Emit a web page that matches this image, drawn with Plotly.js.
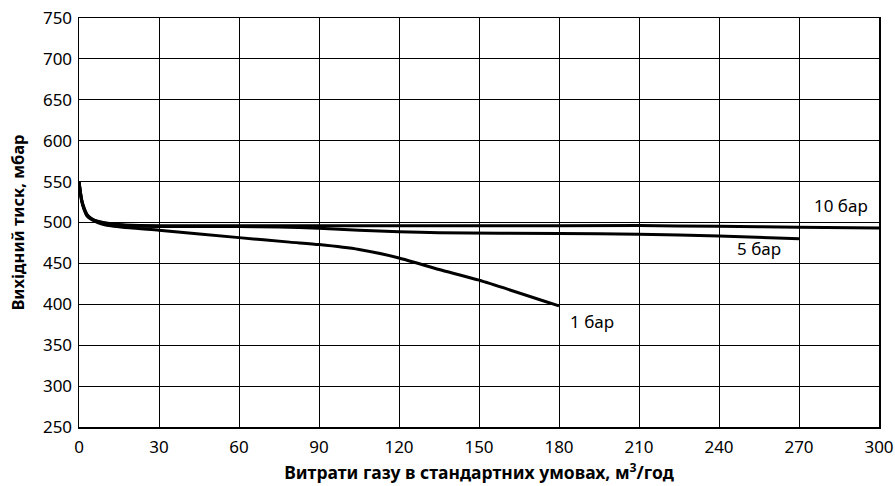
<!DOCTYPE html>
<html>
<head>
<meta charset="utf-8">
<script src="https://cdn.plot.ly/plotly-3.0.1.min.js"></script>
<style>html,body{margin:0;padding:0;background:#fff;}#chart{width:895px;height:486px;}</style>
</head>
<body>
<div id="chart"></div>
<script>
// Flow rate (m3/h) and outlet pressure (mbar) for each inlet pressure
const flow10 = [0, 1, 2, 3, 4.6, 7, 10, 20, 60, 100, 150, 210, 240, 270, 300];
const press10 = [550, 528, 517, 510, 505, 501.5, 499.5, 496.5, 496, 496, 496, 496.2, 495.4, 494.2, 493.3];

const flow5 = [0, 1, 2, 3, 5, 7, 10, 20, 60, 75, 90, 105, 120, 135, 180, 210, 240, 270];
const press5 = [550, 527, 516, 509, 504, 501, 499, 495.8, 495, 494.6, 493, 490.6, 488.8, 487.5, 486.6, 485.7, 483.6, 480];

const flow1 = [0, 1, 2, 3, 5, 7, 10, 19, 30, 60, 79, 90, 105, 120, 135, 150, 180];
const press1 = [550, 526, 515, 508, 503, 500, 497, 493.5, 490.5, 481.5, 476, 473, 467, 456.7, 442.5, 429.5, 398];

const seriesNames = ["10 бар", "5 бар", "1 бар"];
const labelX = [275, 246, 183.3];
const labelY = [521, 468.6, 378.6];

const xTicks = [0, 30, 60, 90, 120, 150, 180, 210, 240, 270, 300];
const yTicks = [250, 300, 350, 400, 450, 500, 550, 600, 650, 700, 750];

const font = "'Noto Sans', 'Open Sans', sans-serif";
const line = {color: "#000", width: 3, shape: "spline", smoothing: 0.6};

const traces = [
  {x: flow10, y: press10, name: seriesNames[0]},
  {x: flow5, y: press5, name: seriesNames[1]},
  {x: flow1, y: press1, name: seriesNames[2]}
].map(t => Object.assign(t, {type: "scatter", mode: "lines", line: line, hoverinfo: "skip"}));

const annotations = seriesNames.map((n, i) => ({
  x: labelX[i], y: labelY[i], xref: "x", yref: "y", text: n, showarrow: false,
  xanchor: "left", yanchor: "middle", font: {family: font, size: 17, color: "#000"}
}));

const axisCommon = {
  showgrid: true, gridcolor: "#000", gridwidth: 1,
  showline: true, linecolor: "#000", linewidth: 1.5, mirror: true,
  zeroline: false, ticks: "", tickfont: {family: font, size: 17, color: "#000"}
};

const layout = {
  width: 895, height: 486,
  margin: {l: 79.3, r: 15.7, t: 17.5, b: 59},
  paper_bgcolor: "#fff", plot_bgcolor: "#fff",
  showlegend: false,
  font: {family: font, color: "#000"},
  xaxis: Object.assign({}, axisCommon, {
    range: [0, 300], tickvals: xTicks, ticktext: xTicks.map(String), ticklabelstandoff: 4,
    title: {text: "<b>Витрати газу в стандартних умовах, м<sup>3</sup>/год</b>", font: {family: font, size: 17.5, color: "#000"}, standoff: 10}
  }),
  yaxis: Object.assign({}, axisCommon, {
    range: [250, 750], tickvals: yTicks, ticktext: yTicks.map(String), ticklabelstandoff: 2,
    title: {text: "<b>Вихідний тиск, мбар</b>", font: {family: font, size: 16.5, color: "#000"}, standoff: 14}
  }),
  annotations: annotations
};

Plotly.newPlot("chart", traces, layout, {staticPlot: true, displayModeBar: false});
</script>
</body>
</html>
